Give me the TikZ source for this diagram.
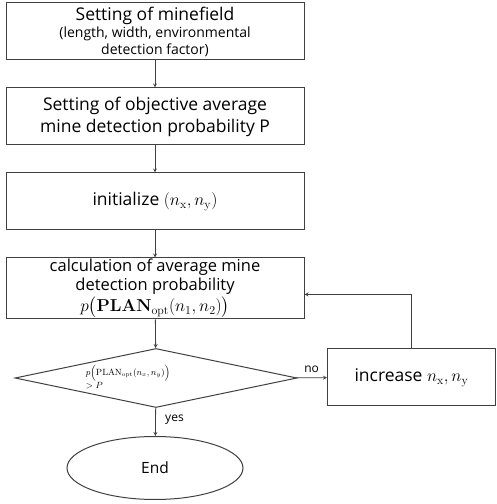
\documentclass[tikz,border=0pt]{standalone}
\usepackage{amsmath}
\usepackage[no-math]{fontspec}
\setmainfont{Open Sans}
\usepackage{tikz}
\usetikzlibrary{shapes.geometric}
\definecolor{linegray}{HTML}{404040}

\begin{document}
\begin{tikzpicture}[
        stepbox/.style = {draw = linegray, line width = 1pt, rectangle, align = center, minimum width = 298pt, minimum height = 57pt, font = \fontsize{17.5}{22}\selectfont},
        arr/.style = {->, > = stealth, draw = linegray, line width = 0.8pt}
    ]

        \useasboundingbox (0pt, 0pt) rectangle (496pt, 504pt);

        \node [stepbox] (field) at (155pt, 472.5pt) {Setting of minefield\\[-5pt]{\fontsize{14}{16}\selectfont (length, width, environmental}\\[-5pt]{\fontsize{14}{16}\selectfont detection factor)}};
        \node [stepbox] (target) at (155pt, 387.5pt) {Setting of objective average\\mine detection probability P};
        \node [stepbox] (init) at (155pt, 302.5pt) {initialize $(n_{\mathrm{x}}, n_{\mathrm{y}})$};
        \node [stepbox, minimum height = 61pt, inner sep = 1pt, font = \fontsize{16.5}{18.5}\selectfont] (calc) at (155pt, 215.5pt) {calculation of average mine\\detection probability\\[2pt]$p\bigl(\mathbf{PLAN}_{\mathrm{opt}}(n_1, n_2)\bigr)$};

        \node [draw = linegray, line width = 1pt, diamond, aspect = 4.8, inner sep = 0pt, minimum width = 282pt, minimum height = 59pt] (check) at (156pt, 126pt) {};
        \node [align = left, font = \fontsize{9}{10}\selectfont] (checktext) at (128pt, 127pt) {$p\Bigl(\mathrm{PLAN}_{\mathrm{opt}}(n_x, n_y)\Bigr)$\\$> P$};

        \node [stepbox, minimum width = 168pt] (incr) at (411.5pt, 126.5pt) {increase $n_{\mathrm{x}}, n_{\mathrm{y}}$};

        \node [draw = linegray, line width = 1pt, ellipse, minimum width = 176pt, minimum height = 63pt, font = \fontsize{15.5}{18}\selectfont] (end) at (155pt, 36pt) {End};

        % Main Flow
        \draw [arr] (field) -- (target);
        \draw [arr] (target) -- (init);
        \draw [arr] (init) -- (calc);
        \draw [arr] (calc) -- (check);
        \draw [arr] (check) -- node [right, xshift = 6pt, yshift = 2pt, font = \fontsize{12}{14}\selectfont] {yes} (end);
        \draw [arr] (check) -- node [above, yshift = 1pt, font = \fontsize{12}{14}\selectfont] {no} (incr);

        % Back Loop
        \draw [arr] (incr.north) |- ([yshift = -6pt]calc.east);

    \end{tikzpicture}
\end{document}
